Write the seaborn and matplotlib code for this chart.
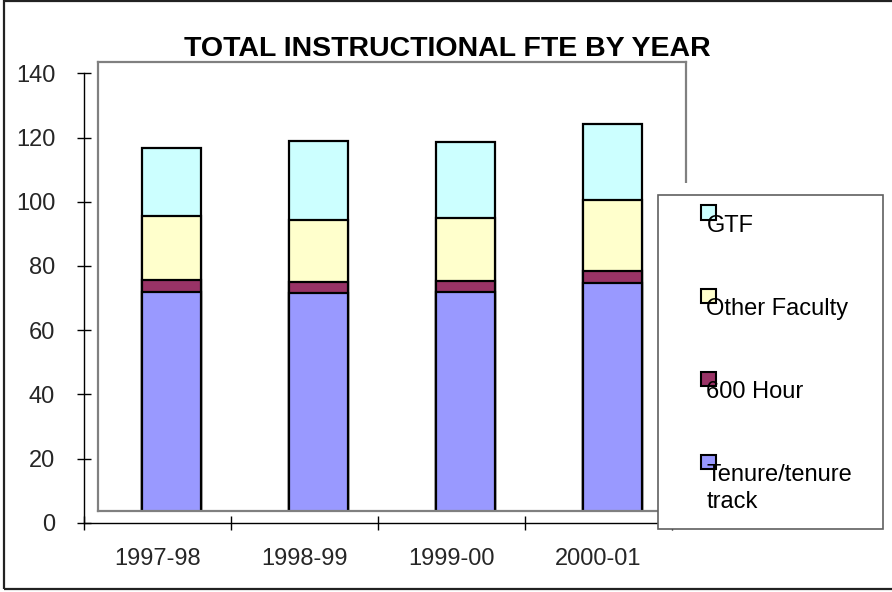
import numpy as np
import pandas as pd
import matplotlib
matplotlib.use("Agg")
import matplotlib.pyplot as plt
import seaborn as sns
from matplotlib.patches import Rectangle

# ---------------- data ----------------
years = ["1997-98", "1998-99", "1999-00", "2000-01"]
tenure = [72.0, 71.6, 71.8, 74.6]
hour600 = [3.5, 3.3, 3.5, 3.8]
other_faculty = [20.2, 19.3, 19.5, 22.1]
gtf = [21.0, 24.6, 23.9, 23.8]
series_names = ["Tenure/tenure\ntrack", "600 Hour", "Other Faculty", "GTF"]
series_colors = ["#9999FF", "#993366", "#FFFFCC", "#CCFFFF"]
y_ticks = [0, 20, 40, 60, 80, 100, 120, 140]
title = "TOTAL INSTRUCTIONAL FTE BY YEAR"

series = [tenure, hour600, other_faculty, gtf]

# ---------------- style ----------------
sns.set_style("white")
plt.rcParams['font.family'] = ['Liberation Sans', 'DejaVu Sans']

W, H = 892, 592
fig = plt.figure(figsize=(W / 100, H / 100), dpi=100)
fig.patch.set_facecolor("white")

def fx(px):
    return px / W

def fy(py):
    return 1 - py / H

# back wall (where the columns live, Excel pseudo-3D offset)
back = fig.add_axes([fx(98), fy(511), fx(686) - fx(98), fy(62) - fy(511)])
# front axes (value/category axes)
front = fig.add_axes([fx(84), fy(522.7), fx(672) - fx(84), fy(73.3) - fy(522.7)])
front.patch.set_visible(False)

# stacked columns: draw cumulative totals from top series down
cum = np.cumsum(np.array(series, dtype=float), axis=0)
for i in range(len(series) - 1, -1, -1):
    df = pd.DataFrame({"year": years, "value": cum[i]})
    sns.barplot(data=df, x="year", y="value", color=series_colors[i],
                saturation=1, width=0.4, edgecolor="black", linewidth=1.6,
                ax=back)

off = (522.7 - 511) / ((522.7 - 73.3) / 140)
back.set_xlim(-0.5, 3.5)
back.set_ylim(off, off + 140 * (511 - 62) / (522.7 - 73.3))
back.set_xticks([])
back.set_yticks([])
back.set_xlabel("")
back.set_ylabel("")
for s in back.spines.values():
    s.set_color("#808080")
    s.set_linewidth(1.6)
    s.set_visible(True)

# front axes
front.set_xlim(-0.5, 3.5)
front.set_ylim(0, 140)
front.set_yticks(y_ticks)
front.set_yticklabels([str(t) for t in y_ticks])
front.set_xticks(range(len(years)))
front.set_xticklabels(years)
front.set_xticks(np.arange(-0.5, len(years), 1.0), minor=True)
front.tick_params(axis="y", which="major", direction="inout", length=10.5,
                  width=1.0, color="black", labelsize=17, pad=15.5, left=True)
front.tick_params(axis="x", which="major", length=0, labelsize=17, pad=18)
front.tick_params(axis="x", which="minor", direction="inout", length=10.5,
                  width=1.0, color="black", bottom=True)
for side in ["top", "right"]:
    front.spines[side].set_visible(False)
for side in ["left", "bottom"]:
    front.spines[side].set_color("black")
    front.spines[side].set_linewidth(1.0)
    front.spines[side].set_visible(True)

# title
fig.text(fx(447), fy(56), title, ha="center", va="baseline",
         fontsize=20.5, fontweight="bold", color="black")

# legend (Excel style, markers overlapping text)
gap = Rectangle((fx(680), fy(196)), fx(692) - fx(680), fy(182.5) - fy(196),
                transform=fig.transFigure, facecolor="white", edgecolor="none",
                zorder=4)
fig.add_artist(gap)
box = Rectangle((fx(657.7), fy(529)), fx(882.7) - fx(657.7), fy(195) - fy(529),
                transform=fig.transFigure, facecolor="white", edgecolor="#606060",
                linewidth=1.2, zorder=5)
fig.add_artist(box)
order = list(range(len(series) - 1, -1, -1))
for k, i in enumerate(order):
    top = 205.3 + k * 83.2
    sq = Rectangle((fx(701), fy(top + 14.5)), fx(14.5), 14.5 / H,
                   transform=fig.transFigure, facecolor=series_colors[i],
                   edgecolor="black", linewidth=1.5, zorder=6)
    fig.add_artist(sq)
    for j, line in enumerate(series_names[i].split("\n")):
        fig.text(fx(706.5), fy(top + 26.4 + j * 26.6), line, ha="left",
                 va="baseline", fontsize=17, color="black", zorder=7)

# outer chart border
border = Rectangle((fx(4), fy(589)), fx(900) - fx(4), fy(1) - fy(589),
                   transform=fig.transFigure, facecolor="none",
                   edgecolor="#222222", linewidth=1.6, zorder=8)
fig.add_artist(border)

fig.savefig("out.png", dpi=100)
